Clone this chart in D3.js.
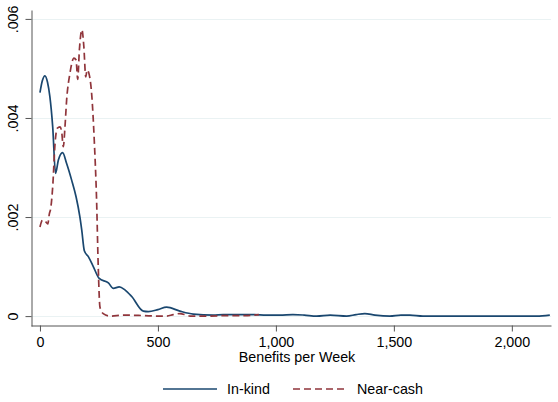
<!DOCTYPE html>
<head>
<meta charset="utf-8">
<style>
body { margin: 0; background: #fff; }
text { font-family: "Liberation Sans", Arial, sans-serif; }
.grid line { stroke: #eaf2f3; stroke-width: 1; }
.line { fill: none; stroke-width: 1.7px; }
</style>
</head>
<body>
<script src="https://d3js.org/d3.v7.min.js"></script>
<script>

// kernel density, In-kind benefits (x = benefits per week, y = density)
var inKindX = [0, 10, 21, 32, 42, 54, 66, 78, 96, 113, 134, 153, 169, 177, 188, 205, 226, 251, 290, 311,
               336, 360, 388, 438, 459, 500, 537, 593, 650, 734, 777, 847, 904, 960, 1017, 1072, 1120,
               1173, 1230, 1300, 1340, 1377, 1420, 1483, 1530, 1568, 1623, 1800, 2000, 2106, 2161];
var inKindY = [0.00451, 0.00475, 0.00485, 0.00472, 0.00443, 0.00382, 0.00288, 0.00315, 0.00330, 0.00308,
               0.00275, 0.00241, 0.00201, 0.00174, 0.00132, 0.00120, 0.00100, 0.00076, 0.00067, 0.00056,
               0.00059, 0.00053, 0.00040, 0.00010, 0.00009, 0.00013, 0.00018, 0.00010, 0.00004, 0.00002,
               0.00003, 0.00003, 0.00003, 0.00002, 0.00002, 0.00003, 0.00002, 0.00000, 0.00002, 0.00000,
               0.00003, 0.00005, 0.00002, 0.00000, 0.00002, 0.00002, 0.00000, 0.00000, 0.00000, 0.00000, 0.00002];

// kernel density, Near-cash benefits
var nearCashX = [0, 11, 25, 33, 40, 45, 54, 64, 73, 85, 92, 99, 106, 113, 127, 144, 153, 160, 167, 178,
                 186, 194, 200, 209, 220, 230, 240, 247, 254, 261, 268, 297, 353, 438, 500, 537, 565, 593,
                 620, 636, 700, 800, 870, 928];
var nearCashY = [0.00180, 0.00194, 0.00190, 0.00186, 0.00207, 0.00216, 0.00261, 0.00349, 0.00379, 0.00382,
                 0.00372, 0.00342, 0.00382, 0.00436, 0.00490, 0.00521, 0.00517, 0.00478, 0.00537, 0.00578,
                 0.00544, 0.00483, 0.00497, 0.00487, 0.00443, 0.00356, 0.00234, 0.00100, 0.00019, 0.00009,
                 0.00005, 0.00000, 0.00002, 0.00001, 0.00000, 0.00000, 0.00003, 0.00005, 0.00002, 0.00000,
                 0.00000, 0.00001, 0.00001, 0.00003];

var xTicks = [0, 500, 1000, 1500, 2000];
var yTicks = [0, 0.002, 0.004, 0.006];
var seriesNames = ["In-kind", "Near-cash"];
var seriesColors = ["#1a476f", "#90353b"];

var width = 558, height = 402;
var fontSize = "14.3px";

// plot region (axis lines sit on its left and bottom edge)
var x = d3.scaleLinear().domain([-38, 2166]).range([31, 551]);
var y = d3.scaleLinear().domain([-0.0002, 0.00618]).range([326, 10]);

var svg = d3.select("body").append("svg")
    .attr("width", width)
    .attr("height", height);

// gridlines
svg.append("g").attr("class", "grid")
  .selectAll("line").data(yTicks).enter().append("line")
    .attr("x1", 31).attr("x2", 551)
    .attr("y1", function(d) { return Math.round(y(d)) + 0.5; })
    .attr("y2", function(d) { return Math.round(y(d)) + 0.5; });

function pts(xs, ys) {
  return xs.map(function(v, i) { return {x: v, y: ys[i]}; });
}

var line = d3.line()
    .x(function(d) { return x(d.x); })
    .y(function(d) { return y(d.y); })
    .curve(d3.curveMonotoneX);

svg.append("path")
    .datum(pts(inKindX, inKindY))
    .attr("class", "line")
    .style("stroke", seriesColors[0])
    .attr("d", line);

svg.append("path")
    .datum(pts(nearCashX, nearCashY))
    .attr("class", "line")
    .style("stroke", seriesColors[1])
    .style("stroke-dasharray", "7,4")
    .attr("d", line);

// x axis
var xAxis = svg.append("g")
    .attr("transform", "translate(0,325.5)")
    .call(d3.axisBottom(x).tickValues(xTicks).tickFormat(d3.format(","))
          .tickSize(6).tickSizeOuter(0).tickPadding(5));
xAxis.selectAll("text").style("font-size", fontSize).attr("fill", "#000");
xAxis.selectAll("line, path").attr("stroke", "#555");

// y axis, labels turned sideways
var yAxis = svg.append("g")
    .attr("transform", "translate(31.5,0)")
    .call(d3.axisLeft(y).tickValues(yTicks)
          .tickFormat(function(d) { return d === 0 ? "0" : d3.format(".3f")(d).replace(/^0/, ""); })
          .tickSize(6).tickSizeOuter(0));
yAxis.selectAll("line, path").attr("stroke", "#555");
yAxis.selectAll("text")
    .style("font-size", fontSize).attr("fill", "#000")
    .attr("x", null).attr("dy", null)
    .attr("text-anchor", "middle")
    .attr("transform", "translate(-13.5,0) rotate(-90)");

// axis title
svg.append("text")
    .attr("x", 297).attr("y", 362)
    .attr("text-anchor", "middle")
    .style("font-size", fontSize)
    .text("Benefits per Week");

// legend
var legend = svg.append("g");
var legX = [163, 293];
seriesNames.forEach(function(name, i) {
  legend.append("line")
      .attr("x1", legX[i]).attr("x2", legX[i] + 54)
      .attr("y1", 389).attr("y2", 389)
      .style("stroke", seriesColors[i])
      .style("stroke-width", 1.7)
      .style("stroke-dasharray", i === 1 ? "7,4" : null);
  legend.append("text")
      .attr("x", legX[i] + 64).attr("y", 394)
      .style("font-size", fontSize)
      .text(name);
});

</script>
</body>
